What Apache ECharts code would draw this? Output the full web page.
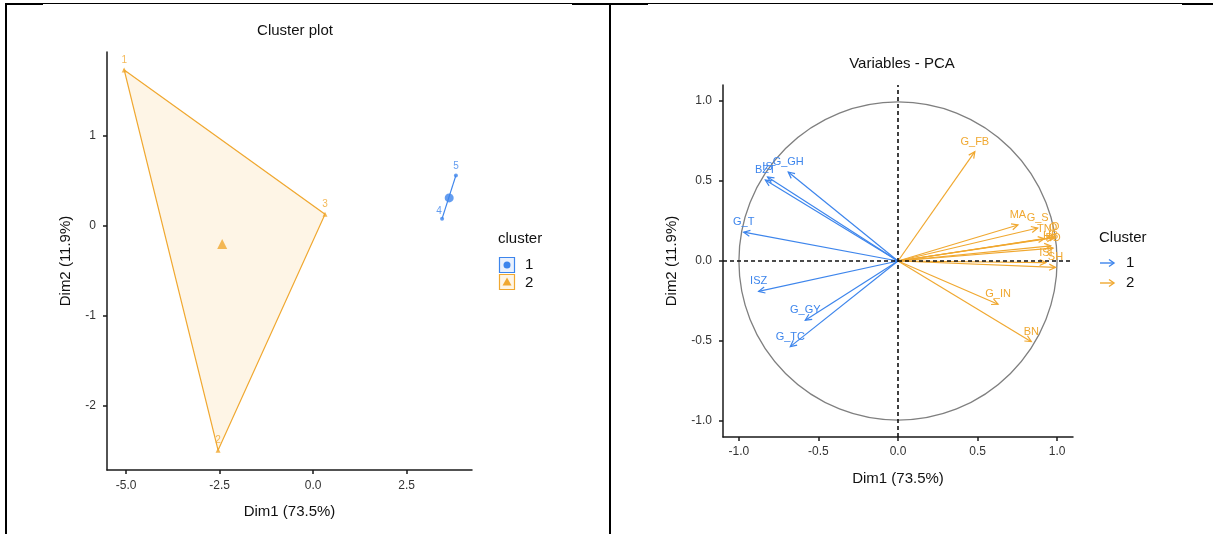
<!DOCTYPE html>
<html>
<head>
<meta charset="utf-8">
<script src="https://cdn.jsdelivr.net/npm/echarts@6/dist/echarts.min.js"></script>
<style>
html,body{margin:0;padding:0;background:#fff;}
#chart{width:1213px;height:534px;}
</style>
</head>
<body>
<div id="chart"></div>
<script>
// ---------- data: cluster plot ----------
const obsNames = ['1', '2', '3', '4', '5'];
const obsDim1 = [-5.05, -2.54, 0.32, 3.45, 3.82];
const obsDim2 = [1.73, -2.49, 0.13, 0.08, 0.56];
const obsCluster = [2, 2, 2, 1, 1];
const clusterNames = ['1', '2'];
const centerDim1 = [3.64, -2.43];
const centerDim2 = [0.31, -0.20];
const hullCluster1 = [3, 4];
const hullCluster2 = [0, 2, 1];
const leftXTicks = [-5, -2.5, 0, 2.5];
const leftYTicks = [-2, -1, 0, 1];

// ---------- data: variables PCA ----------
const varNames = ['IS', 'BZT', 'G_GH', 'G_T', 'ISZ', 'G_GY', 'G_TC',
  'G_FB', 'MA', 'G_S', 'TN', 'O', 'D', 'HB', 'PD', 'ISI', 'SH', 'G_IN', 'BN'];
const varDim1 = [-0.82, -0.834, -0.69, -0.97, -0.876, -0.583, -0.677,
  0.483, 0.754, 0.878, 0.92, 0.975, 0.99, 0.96, 0.975, 0.93, 0.99, 0.629, 0.838];
const varDim2 = [0.525, 0.506, 0.556, 0.18, -0.19, -0.37, -0.535,
  0.683, 0.225, 0.206, 0.14, 0.145, 0.15, 0.095, 0.08, -0.01, -0.04, -0.27, -0.504];
const varCluster = [1, 1, 1, 1, 1, 1, 1,
  2, 2, 2, 2, 2, 2, 2, 2, 2, 2, 2, 2];
const rightTicks = [-1, -0.5, 0, 0.5, 1];

const BLUE = '#3D85EC';
const ORANGE = '#F0A830';
const FONT = 'Liberation Sans, Arial, sans-serif';
const AXIS = '#1a1a1a';
const TICKTXT = '#333333';

function valueAxis(grid, min, max, ticks, fmt, name, gap, margin) {
  return {
    gridIndex: grid, type: 'value', min: min, max: max,
    splitLine: { show: false },
    axisLine: { show: true, onZero: false, lineStyle: { color: AXIS, width: 1.5 } },
    axisTick: { show: true, length: 4, customValues: ticks, lineStyle: { color: AXIS, width: 1.5 } },
    axisLabel: { customValues: ticks, formatter: fmt, color: TICKTXT, fontSize: 12, margin: margin, fontFamily: FONT },
    name: name, nameLocation: 'middle', nameGap: gap,
    nameTextStyle: { fontSize: 15, color: '#111', fontFamily: FONT }
  };
}

const f1 = v => Number(v).toFixed(1);
const f0 = v => String(Math.round(v));

function hullSeries(idx, color, fill) {
  return {
    type: 'custom', xAxisIndex: 0, yAxisIndex: 0, silent: true, z: 1,
    data: idx.map(i => [obsDim1[i], obsDim2[i]]),
    renderItem: function (params, api) {
      if (params.dataIndex !== 0) return null;
      const pts = idx.map(i => api.coord([obsDim1[i], obsDim2[i]]));
      return {
        type: idx.length > 2 ? 'polygon' : 'polyline',
        shape: { points: pts },
        style: { fill: idx.length > 2 ? fill : null, stroke: color, lineWidth: 1.2 }
      };
    }
  };
}

function pointSeries(cl, color, symbol, size) {
  const data = [];
  obsNames.forEach((n, i) => {
    if (obsCluster[i] === cl) data.push({ name: n, value: [obsDim1[i], obsDim2[i]],
      label: { offset: n === '4' ? [-3, 2] : [0, 0] } });
  });
  return {
    type: 'scatter', xAxisIndex: 0, yAxisIndex: 0, symbol: symbol, symbolSize: size, z: 3,
    itemStyle: { color: color },
    label: { show: true, position: 'top', distance: 2, formatter: p => p.name, color: color, fontSize: 10, fontFamily: FONT },
    data: data
  };
}

const arrowSeries = {
  type: 'custom', xAxisIndex: 1, yAxisIndex: 1, silent: true, z: 4,
  data: varDim1.map((x, i) => [x, varDim2[i]]),
  renderItem: function (params, api) {
    const i = params.dataIndex;
    const o = api.coord([0, 0]);
    const p = api.coord([api.value(0), api.value(1)]);
    const ang = Math.atan2(p[1] - o[1], p[0] - o[0]);
    const L = 7, a = Math.PI / 7;
    const h1 = [p[0] - L * Math.cos(ang - a), p[1] - L * Math.sin(ang - a)];
    const h2 = [p[0] - L * Math.cos(ang + a), p[1] - L * Math.sin(ang + a)];
    const color = varCluster[i] === 1 ? BLUE : ORANGE;
    return {
      type: 'group', children: [
        { type: 'line', shape: { x1: o[0], y1: o[1], x2: p[0], y2: p[1] }, style: { stroke: color, lineWidth: 1.2 } },
        { type: 'polyline', shape: { points: [h1, p, h2] }, style: { stroke: color, fill: null, lineWidth: 1.2 } },
        { type: 'text', x: p[0], y: p[1] - 10, style: { text: varNames[i], fill: color, font: '11px ' + FONT, align: 'center', verticalAlign: 'middle' } }
      ]
    };
  }
};

const circleSeries = {
  type: 'custom', xAxisIndex: 1, yAxisIndex: 1, silent: true, z: 2,
  data: [[0, 0]],
  renderItem: function (params, api) {
    const c = api.coord([0, 0]);
    const r = api.size([1, 0])[0];
    return { type: 'circle', shape: { cx: c[0], cy: c[1], r: r }, style: { fill: null, stroke: '#7f7f7f', lineWidth: 1.3 } };
  },
  markLine: {
    silent: true, symbol: ['none', 'none'], label: { show: false },
    lineStyle: { color: '#111', width: 1.6, type: [4, 3] },
    data: [{ xAxis: 0 }, { yAxis: 0 }]
  }
};

// legend graphics
function legendArrow(x, y, color) {
  return {
    type: 'group', children: [
      { type: 'line', shape: { x1: x, y1: y, x2: x + 14, y2: y }, style: { stroke: color, lineWidth: 1.4 } },
      { type: 'polyline', shape: { points: [[x + 9, y - 3.5], [x + 14, y], [x + 9, y + 3.5]] }, style: { stroke: color, fill: null, lineWidth: 1.4 } }
    ]
  };
}

const graphics = [
  // page borders
  { type: 'line', shape: { x1: 5, y1: 3.5, x2: 1213, y2: 3.5 }, style: { stroke: '#000', lineWidth: 1 } },
  { type: 'line', shape: { x1: 5, y1: 4, x2: 43, y2: 4 }, style: { stroke: '#000', lineWidth: 2 } },
  { type: 'line', shape: { x1: 572, y1: 4, x2: 648, y2: 4 }, style: { stroke: '#000', lineWidth: 2 } },
  { type: 'line', shape: { x1: 1182, y1: 4, x2: 1213, y2: 4 }, style: { stroke: '#000', lineWidth: 2 } },
  { type: 'line', shape: { x1: 6, y1: 3, x2: 6, y2: 534 }, style: { stroke: '#000', lineWidth: 2 } },
  { type: 'line', shape: { x1: 610, y1: 3, x2: 610, y2: 534 }, style: { stroke: '#000', lineWidth: 2 } },
  // left legend
  { type: 'text', x: 498, y: 239, style: { text: 'cluster', font: '15px ' + FONT, fill: '#111', verticalAlign: 'middle' } },
  { type: 'rect', shape: { x: 499.5, y: 257.5, width: 15, height: 15 }, style: { fill: '#EAF1FD', stroke: BLUE, lineWidth: 1.2 } },
  { type: 'circle', shape: { cx: 507, cy: 265, r: 3.5 }, style: { fill: BLUE } },
  { type: 'rect', shape: { x: 499.5, y: 274.5, width: 15, height: 15 }, style: { fill: '#FEF5E6', stroke: ORANGE, lineWidth: 1.2 } },
  { type: 'polygon', shape: { points: [[507, 277.5], [511.5, 285.5], [502.5, 285.5]] }, style: { fill: ORANGE } },
  { type: 'text', x: 525, y: 265, style: { text: '1', font: '15px ' + FONT, fill: '#111', verticalAlign: 'middle' } },
  { type: 'text', x: 525, y: 283, style: { text: '2', font: '15px ' + FONT, fill: '#111', verticalAlign: 'middle' } },
  // right legend
  { type: 'text', x: 1099, y: 238, style: { text: 'Cluster', font: '15px ' + FONT, fill: '#111', verticalAlign: 'middle' } },
  legendArrow(1100, 263, BLUE),
  legendArrow(1100, 283, ORANGE),
  { type: 'text', x: 1126, y: 263, style: { text: '1', font: '15px ' + FONT, fill: '#111', verticalAlign: 'middle' } },
  { type: 'text', x: 1126, y: 283, style: { text: '2', font: '15px ' + FONT, fill: '#111', verticalAlign: 'middle' } }
];

const chart = echarts.init(document.getElementById('chart'), null, { renderer: 'canvas' });
chart.setOption({
  animation: false,
  backgroundColor: '#fff',
  textStyle: { fontFamily: FONT },
  title: [
    { text: 'Cluster plot', left: 290, top: 18, textAlign: 'center', textStyle: { fontSize: 15, fontWeight: 'normal', color: '#111', fontFamily: FONT } },
    { text: 'Variables - PCA', left: 897, top: 51, textAlign: 'center', textStyle: { fontSize: 15, fontWeight: 'normal', color: '#111', fontFamily: FONT } }
  ],
  grid: [
    { left: 107, top: 52, width: 365, height: 418, containLabel: false },
    { left: 723, top: 85, width: 350, height: 352, containLabel: false }
  ],
  xAxis: [
    valueAxis(0, -5.51, 4.25, leftXTicks, f1, 'Dim1 (73.5%)', 34, 10),
    valueAxis(1, -1.1, 1.1, rightTicks, f1, 'Dim1 (73.5%)', 34, 9)
  ],
  yAxis: [
    valueAxis(0, -2.71, 1.93, leftYTicks, f0, 'Dim2 (11.9%)', 34, 11),
    valueAxis(1, -1.1, 1.1, rightTicks, f1, 'Dim2 (11.9%)', 44, 11)
  ],
  graphic: graphics,
  series: [
    hullSeries(hullCluster2, ORANGE, 'rgba(246,176,60,0.13)'),
    hullSeries(hullCluster1, BLUE, null),
    pointSeries(2, ORANGE, 'triangle', 5),
    pointSeries(1, BLUE, 'circle', 4),
    {
      type: 'scatter', xAxisIndex: 0, yAxisIndex: 0, z: 3,
      data: centerDim1.map((x, i) => ({ name: clusterNames[i], value: [x, centerDim2[i]],
        symbol: i === 0 ? 'circle' : 'triangle', symbolSize: i === 0 ? 9 : 10,
        itemStyle: { color: i === 0 ? BLUE : ORANGE } }))
    },
    circleSeries,
    arrowSeries
  ]
});
</script>
</body>
</html>
